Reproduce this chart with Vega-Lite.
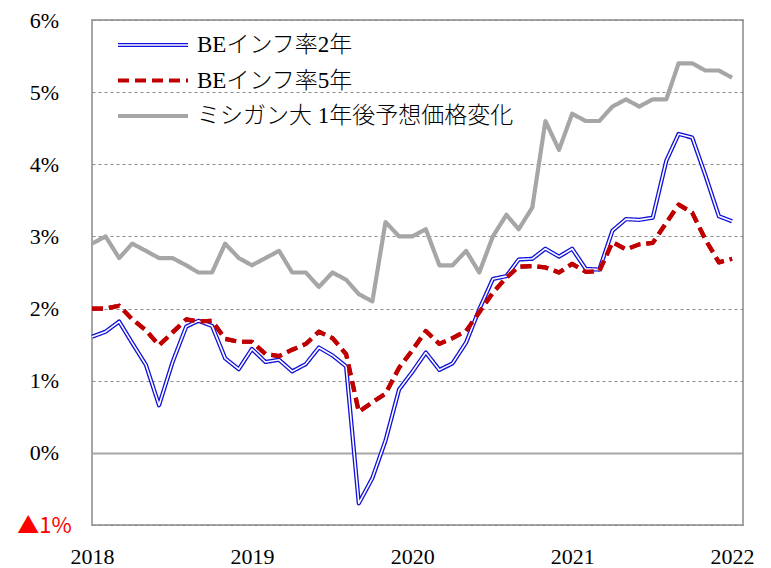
{
  "$schema": "https://vega.github.io/schema/vega-lite/v6.json",
  "width": 651,
  "height": 505,
  "autosize": {"type": "none"},
  "padding": {"left": 92, "top": 20, "right": 28, "bottom": 43},
  "background": "white",
  "config": {
    "view": {"stroke": "#a6a6a6", "strokeWidth": 2},
    "font": "Liberation Serif, Noto Sans CJK JP"
  },
  "data": {
    "values": [
      {"date": "2018-07-01", "BEインフ率2年": 1.61, "BEインフ率5年": 2.00, "ミシガン大 1年後予想価格変化": 2.9},
      {"date": "2018-08-01", "BEインフ率2年": 1.68, "BEインフ率5年": 2.00, "ミシガン大 1年後予想価格変化": 3.0},
      {"date": "2018-09-01", "BEインフ率2年": 1.82, "BEインフ率5年": 2.04, "ミシガン大 1年後予想価格変化": 2.7},
      {"date": "2018-10-01", "BEインフ率2年": 1.52, "BEインフ率5年": 1.85, "ミシガン大 1年後予想価格変化": 2.9},
      {"date": "2018-11-01", "BEインフ率2年": 1.22, "BEインフ率5年": 1.70, "ミシガン大 1年後予想価格変化": 2.8},
      {"date": "2018-12-01", "BEインフ率2年": 0.66, "BEインフ率5年": 1.49, "ミシガン大 1年後予想価格変化": 2.7},
      {"date": "2019-01-01", "BEインフ率2年": 1.26, "BEインフ率5年": 1.67, "ミシガン大 1年後予想価格変化": 2.7},
      {"date": "2019-02-01", "BEインフ率2年": 1.75, "BEインフ率5年": 1.85, "ミシガン大 1年後予想価格変化": 2.6},
      {"date": "2019-03-01", "BEインフ率2年": 1.83, "BEインフ率5年": 1.82, "ミシガン大 1年後予想価格変化": 2.5},
      {"date": "2019-04-01", "BEインフ率2年": 1.76, "BEインフ率5年": 1.83, "ミシガン大 1年後予想価格変化": 2.5},
      {"date": "2019-05-01", "BEインフ率2年": 1.31, "BEインフ率5年": 1.58, "ミシガン大 1年後予想価格変化": 2.9},
      {"date": "2019-06-01", "BEインフ率2年": 1.16, "BEインフ率5年": 1.54, "ミシガン大 1年後予想価格変化": 2.7},
      {"date": "2019-07-01", "BEインフ率2年": 1.44, "BEインフ率5年": 1.54, "ミシガン大 1年後予想価格変化": 2.6},
      {"date": "2019-08-01", "BEインフ率2年": 1.26, "BEインフ率5年": 1.37, "ミシガン大 1年後予想価格変化": 2.7},
      {"date": "2019-09-01", "BEインフ率2年": 1.29, "BEインフ率5年": 1.34, "ミシガン大 1年後予想価格変化": 2.8},
      {"date": "2019-10-01", "BEインフ率2年": 1.13, "BEインフ率5年": 1.43, "ミシガン大 1年後予想価格変化": 2.5},
      {"date": "2019-11-01", "BEインフ率2年": 1.23, "BEインフ率5年": 1.51, "ミシガン大 1年後予想価格変化": 2.5},
      {"date": "2019-12-01", "BEインフ率2年": 1.46, "BEインフ率5年": 1.68, "ミシガン大 1年後予想価格変化": 2.3},
      {"date": "2020-01-01", "BEインフ率2年": 1.35, "BEインフ率5年": 1.59, "ミシガン大 1年後予想価格変化": 2.5},
      {"date": "2020-02-01", "BEインフ率2年": 1.20, "BEインフ率5年": 1.37, "ミシガン大 1年後予想価格変化": 2.4},
      {"date": "2020-03-01", "BEインフ率2年": -0.70, "BEインフ率5年": 0.57, "ミシガン大 1年後予想価格変化": 2.2},
      {"date": "2020-04-01", "BEインフ率2年": -0.35, "BEインフ率5年": 0.70, "ミシガン大 1年後予想価格変化": 2.1},
      {"date": "2020-05-01", "BEインフ率2年": 0.17, "BEインフ率5年": 0.82, "ミシガン大 1年後予想価格変化": 3.2},
      {"date": "2020-06-01", "BEインフ率2年": 0.88, "BEインフ率5年": 1.18, "ミシガン大 1年後予想価格変化": 3.0},
      {"date": "2020-07-01", "BEインフ率2年": 1.12, "BEインフ率5年": 1.42, "ミシガン大 1年後予想価格変化": 3.0},
      {"date": "2020-08-01", "BEインフ率2年": 1.39, "BEインフ率5年": 1.69, "ミシガン大 1年後予想価格変化": 3.1},
      {"date": "2020-09-01", "BEインフ率2年": 1.15, "BEインフ率5年": 1.51, "ミシガン大 1年後予想価格変化": 2.6},
      {"date": "2020-10-01", "BEインフ率2年": 1.24, "BEインフ率5年": 1.59, "ミシガン大 1年後予想価格変化": 2.6},
      {"date": "2020-11-01", "BEインフ率2年": 1.53, "BEインフ率5年": 1.69, "ミシガン大 1年後予想価格変化": 2.8},
      {"date": "2020-12-01", "BEインフ率2年": 1.99, "BEインフ率5年": 1.95, "ミシガン大 1年後予想価格変化": 2.5},
      {"date": "2021-01-01", "BEインフ率2年": 2.41, "BEインフ率5年": 2.22, "ミシガン大 1年後予想価格変化": 3.0},
      {"date": "2021-02-01", "BEインフ率2年": 2.45, "BEインフ率5年": 2.43, "ミシガン大 1年後予想価格変化": 3.3},
      {"date": "2021-03-01", "BEインフ率2年": 2.68, "BEインフ率5年": 2.58, "ミシガン大 1年後予想価格変化": 3.1},
      {"date": "2021-04-01", "BEインフ率2年": 2.69, "BEインフ率5年": 2.59, "ミシガン大 1年後予想価格変化": 3.4},
      {"date": "2021-05-01", "BEインフ率2年": 2.83, "BEインフ率5年": 2.57, "ミシガン大 1年後予想価格変化": 4.6},
      {"date": "2021-06-01", "BEインフ率2年": 2.72, "BEインフ率5年": 2.50, "ミシガン大 1年後予想価格変化": 4.2},
      {"date": "2021-07-01", "BEインフ率2年": 2.83, "BEインフ率5年": 2.62, "ミシガン大 1年後予想価格変化": 4.7},
      {"date": "2021-08-01", "BEインフ率2年": 2.55, "BEインフ率5年": 2.51, "ミシガン大 1年後予想価格変化": 4.6},
      {"date": "2021-09-01", "BEインフ率2年": 2.54, "BEインフ率5年": 2.52, "ミシガン大 1年後予想価格変化": 4.6},
      {"date": "2021-10-01", "BEインフ率2年": 3.08, "BEインフ率5年": 2.92, "ミシガン大 1年後予想価格変化": 4.8},
      {"date": "2021-11-01", "BEインフ率2年": 3.24, "BEインフ率5年": 2.82, "ミシガン大 1年後予想価格変化": 4.9},
      {"date": "2021-12-01", "BEインフ率2年": 3.23, "BEインフ率5年": 2.89, "ミシガン大 1年後予想価格変化": 4.8},
      {"date": "2022-01-01", "BEインフ率2年": 3.26, "BEインフ率5年": 2.91, "ミシガン大 1年後予想価格変化": 4.9},
      {"date": "2022-02-01", "BEインフ率2年": 4.05, "BEインフ率5年": 3.19, "ミシガン大 1年後予想価格変化": 4.9},
      {"date": "2022-03-01", "BEインフ率2年": 4.42, "BEインフ率5年": 3.44, "ミシガン大 1年後予想価格変化": 5.4},
      {"date": "2022-04-01", "BEインフ率2年": 4.37, "BEインフ率5年": 3.33, "ミシガン大 1年後予想価格変化": 5.4},
      {"date": "2022-05-01", "BEインフ率2年": 3.85, "BEインフ率5年": 2.96, "ミシガン大 1年後予想価格変化": 5.3},
      {"date": "2022-06-01", "BEインフ率2年": 3.28, "BEインフ率5年": 2.64, "ミシガン大 1年後予想価格変化": 5.3},
      {"date": "2022-07-01", "BEインフ率2年": 3.21, "BEインフ率5年": 2.69, "ミシガン大 1年後予想価格変化": 5.2}
    ]
  },
  "transform": [
    {"fold": ["BEインフ率2年", "BEインフ率5年", "ミシガン大 1年後予想価格変化"], "as": ["series", "value"]}
  ],
  "encoding": {
    "x": {
      "field": "date",
      "type": "temporal",
      "scale": {
        "type": "utc",
        "domain": [
          {"year": 2018, "month": 7, "date": 1, "utc": true},
          {"year": 2022, "month": 7, "date": 26, "utc": true}
        ]
      },
      "axis": {
        "title": null,
        "values": [
          {"year": 2018, "month": 7, "date": 1, "utc": true},
          {"year": 2019, "month": 7, "date": 1, "utc": true},
          {"year": 2020, "month": 7, "date": 1, "utc": true},
          {"year": 2021, "month": 7, "date": 1, "utc": true},
          {"year": 2022, "month": 7, "date": 1, "utc": true}
        ],
        "labelExpr": "utcFormat(datum.value, '%Y')",
        "labelFont": "Liberation Serif",
        "labelFontSize": 22,
        "labelColor": "#000000",
        "labelFlush": false,
        "labelOverlap": false,
        "labelAngle": 0,
        "labelPadding": 21,
        "ticks": false,
        "domain": false,
        "grid": false
      }
    },
    "y": {
      "field": "value",
      "type": "quantitative",
      "scale": {"domain": [-1, 6], "nice": false, "zero": false},
      "axis": {
        "title": null,
        "values": [-1, 0, 1, 2, 3, 4, 5, 6],
        "labelExpr": "datum.value < 0 ? '▲' + abs(datum.value) + '%' : datum.value + '%'",
        "labelColor": {"condition": {"test": "datum.value < 0", "value": "#ff0000"}, "value": "#000000"},
        "labelFont": {"condition": {"test": "datum.value < 0", "value": "Noto Sans CJK JP"}, "value": "Liberation Serif"},
        "labelFontSize": 22,
        "labelAlign": "center",
        "labelPadding": 48,
        "labelOverlap": false,
        "ticks": false,
        "domain": false,
        "grid": true,
        "gridColor": {"condition": {"test": "datum.value === 0", "value": "#a6a6a6"}, "value": "#8c8c8c"},
        "gridDash": {"condition": {"test": "datum.value === 0", "value": []}, "value": [3, 3]},
        "gridWidth": {"condition": {"test": "datum.value === 0", "value": 2}, "value": 1}
      }
    }
  },
  "layer": [
    {
      "mark": {"type": "line", "strokeWidth": 4.2, "strokeCap": "butt", "strokeJoin": "round"},
      "encoding": {
        "color": {
          "field": "series",
          "type": "nominal",
          "scale": {
            "domain": ["BEインフ率2年", "BEインフ率5年", "ミシガン大 1年後予想価格変化"],
            "range": ["#1010d8", "#c00000", "#a6a6a6"]
          },
          "legend": {
            "title": null,
            "orient": "none",
            "legendX": 44.5,
            "legendY": 8.5,
            "symbolType": "M-2.5,0L2.5,0",
            "symbolSize": 784,
            "symbolStrokeWidth": 4.2,
            "labelFont": "Liberation Serif, Noto Sans CJK JP",
            "labelFontSize": 23,
            "labelFontWeight": 300,
            "labelColor": "#000000",
            "labelOffset": 27.5,
            "labelLimit": 500,
            "rowPadding": 6.5,
            "padding": 0
          }
        },
        "strokeDash": {
          "field": "series",
          "type": "nominal",
          "scale": {
            "domain": ["BEインフ率2年", "BEインフ率5年", "ミシガン大 1年後予想価格変化"],
            "range": [[1, 0], [11, 6], [1, 0]]
          },
          "legend": {
            "title": null,
            "orient": "none",
            "legendX": 44.5,
            "legendY": 8.5,
            "symbolType": "M-2.5,0L2.5,0",
            "symbolSize": 784,
            "symbolStrokeWidth": 4.2,
            "labelFont": "Liberation Serif, Noto Sans CJK JP",
            "labelFontSize": 23,
            "labelFontWeight": 300,
            "labelColor": "#000000",
            "labelOffset": 27.5,
            "labelLimit": 500,
            "rowPadding": 6.5,
            "padding": 0
          }
        }
      }
    },
    {
      "transform": [{"filter": "datum.series === 'BEインフ率2年'"}],
      "mark": {"type": "line", "strokeWidth": 1.6, "strokeJoin": "round", "color": "#ffffff"},
      "encoding": {
        "opacity": {
          "field": "series",
          "type": "nominal",
          "scale": {"domain": ["BEインフ率2年"], "range": [1]},
          "legend": {
            "title": null,
            "orient": "none",
            "legendX": 46,
            "legendY": 10,
            "symbolType": "M-2.5,0L2.5,0",
            "symbolSize": 784,
            "symbolStrokeWidth": 1.6,
            "symbolStrokeColor": "#ffffff",
            "labelFont": "Liberation Serif, Noto Sans CJK JP",
            "labelFontSize": 23,
            "labelOpacity": 0,
            "labelOffset": 27.5,
            "labelLimit": 500,
            "rowPadding": 6.5,
            "padding": 0
          }
        }
      }
    },
    {
      "transform": [{"filter": "datum.series === 'BEインフ率5年'"}],
      "mark": {"type": "line", "strokeWidth": 4.2, "color": "#c00000", "strokeDash": [11, 6], "strokeCap": "butt", "strokeJoin": "round"}
    }
  ]
}
